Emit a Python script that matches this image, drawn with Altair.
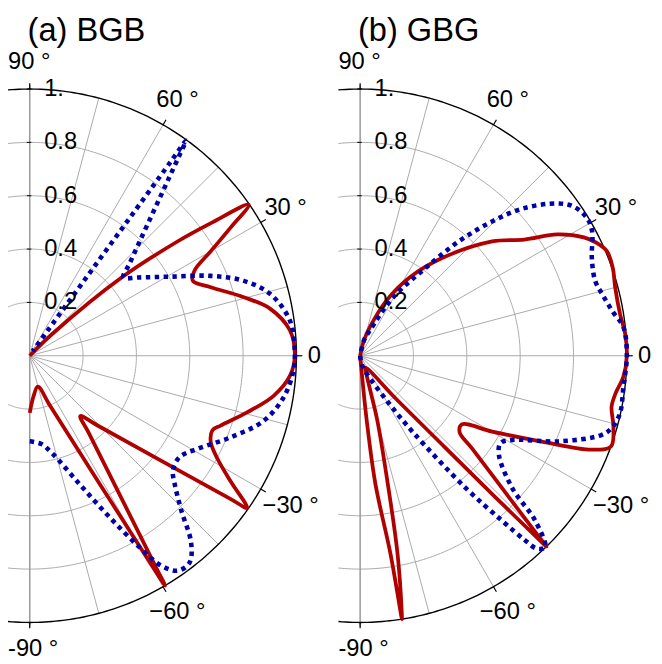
import altair as alt
import numpy as np
import pandas as pd

# ---------------- data (angle in degrees, radius 0..1) ----------------
panels = ["a", "b"]
panel_titles = ["(a) BGB", "(b) GBG"]

a_red_theta = [-90, -84.4, -75.3, -67.7, -59.8, -59.5, -59.2, -52.6, -50, -45.9, -35.5, -35, -32, -28.7,
               -25.5, -22.2, -20.1, -14.6, -9.4, -4.5, 0, 5.6, 11.1, 15.3, 20.7, 24.7, 27.3, 30.0, 32.5,
               34.6, 36.2, 37.7, 40.4, 44, 48]
a_red_r = [0.214, 0.151, 0.12, 0.206, 0.91, 1.0, 0.93, 0.365, 0.295, 0.363, 0.924, 0.995, 0.888, 0.802,
           0.752, 0.740, 0.762, 0.842, 0.926, 0.978, 0.994, 0.980, 0.918, 0.832, 0.726, 0.673, 0.695, 0.784,
           0.892, 0.997, 0.842, 0.702, 0.454, 0.12, 0.0]

a_blue_theta = [-90, -82.5, -76.8, -68.9, -63.8, -60.3, -57.9, -55.4, -52.3, -49.2, -45.5, -41.4, -38.7,
                -34.1, -29.0, -22.1, -15.6, -9.4, -3.4, 0.9, 7.8, 14.4, 19.3, 23.8, 29.2, 35.8, 39.9,
                42.7, 53.3, 54.0, 54.0, 54.5, 57.5]
a_blue_r = [0.321, 0.334, 0.378, 0.514, 0.671, 0.822, 0.930, 0.979, 0.980, 0.926, 0.810, 0.724, 0.688,
            0.678, 0.720, 0.813, 0.910, 0.964, 0.990, 0.994, 0.984, 0.931, 0.850, 0.742, 0.608, 0.502, 0.458,
            0.509, 0.942, 0.997, 0.899, 0.118, 0.02]

b_red_theta = [-90, -84.5, -84.2, -83.2, -81.3, -81.03, -81.0, -80.8, -79.3, -77.7, -75.1, -69, -65, -50.3,
               -47.2, -46.3, -45.75, -45.7, -45.4, -39.7, -37.5, -34, -29.9, -25.3, -22.1, -19.9, -15.6,
               -11.5, -8.4, -4.6, 0, 4.7, 9.1, 15.0, 19.2, 23.0, 25.5, 27.9, 31.6, 35.3, 40.9, 49.9, 57.7,
               64.5, 71.2, 76, 90]
b_red_r = [0.0, 0.1, 0.241, 0.485, 0.75, 0.975, 1.0, 0.976, 0.755, 0.474, 0.248, 0.058, 0.05, 0.206,
           0.468, 0.729, 0.97, 1.0, 0.957, 0.548, 0.47, 0.46, 0.571, 0.753, 0.936, 1.0, 0.986,
           0.962, 0.968, 0.990, 1.0, 0.997, 0.987, 0.990, 1.003, 1.005, 0.983, 0.949, 0.868, 0.754, 0.655,
           0.48, 0.347, 0.229, 0.113, 0.059, 0.0]

b_blue_theta = [-90, -80, -71.2, -58.9, -55.3, -51.4, -49.3, -48.2, -47.5, -46.0, -43.3, -41.0, -35.5,
                -31.9, -29.0, -23.4, -18.2, -16.0, -12.4, -6.7, 0, 6.2, 9.8, 14.0, 17.7, 22.9, 28.2,
                31.2, 34.9, 37.7, 42.0, 45.5, 49.2, 53.2, 60.5, 69, 76, 90]
b_blue_r = [0.0, 0.03, 0.064, 0.207, 0.352, 0.634, 0.816, 0.929, 0.981, 0.998, 0.902, 0.755, 0.639,
            0.62, 0.651, 0.809, 0.952, 0.982, 0.998, 0.994, 1.0, 0.993, 0.962, 0.938, 0.925, 0.943, 0.987,
            0.995, 0.977, 0.934, 0.827, 0.706, 0.567, 0.413, 0.251, 0.102, 0.059, 0.0]

radial_ticks = [0.2, 0.4, 0.6, 0.8, 1.0]
radial_labels = ["0.2", "0.4", "0.6", "0.8", "1."]
spoke_angles = [-75, -60, -45, -30, -15, 0, 15, 30, 45, 60, 75]
angle_ticks = [-90, -60, -30, 0, 30, 60, 90]
angle_labels = ["-90 °", "−60 °", "−30 °", "0", "30 °", "60 °", "90 °"]

# ---------------- layout constants ----------------
PX = 270.0                 # pixels per unit radius
X0 = -22 / PX              # left edge of plotting area
W, H = 654, 540
X1 = X0 + W / PX
OFF = (364.5 - 30) / PX    # horizontal offset of panel (b)
shift = {"a": 0.0, "b": OFF}
FONT = "Liberation Sans"
GRID = "#aaaaaa"

rows = []
for p, series, th, rr in [("a", "red", a_red_theta, a_red_r), ("a", "blue", a_blue_theta, a_blue_r),
                          ("b", "red", b_red_theta, b_red_r), ("b", "blue", b_blue_theta, b_blue_r)]:
    for i, (t, r) in enumerate(zip(th, rr)):
        rows.append({"panel": p, "series": series, "idx": i, "theta": t, "r": r})
curves = pd.DataFrame(rows)

# grid circles (cut at the left edge of the plotting area)
circ = []
for p in panels:
    for rad in radial_ticks:
        phimax = 90 + np.degrees(np.arcsin(min(1.0, -X0 / rad)))
        for i, ph in enumerate(np.linspace(-phimax, phimax, 241)):
            circ.append({"panel": p, "rad": rad, "idx": i,
                         "x": rad * np.cos(np.radians(ph)) + shift[p], "y": rad * np.sin(np.radians(ph))})
circ = pd.DataFrame(circ)

spokes = pd.DataFrame([{"x": shift[p], "y": 0.0,
                        "x2": np.cos(np.radians(a)) + shift[p], "y2": np.sin(np.radians(a))}
                       for p in panels for a in spoke_angles])
vaxis = pd.DataFrame([{"x": shift[p], "y": -1.015, "y2": 1.015} for p in panels])
rticks = pd.DataFrame([{"x": shift[p] - 0.011, "x2": shift[p] + 0.006, "y": r}
                       for p in panels for r in radial_ticks])
aticks = pd.DataFrame([{"x": np.cos(np.radians(a)) + shift[p], "y": np.sin(np.radians(a)),
                        "x2": 1.022 * np.cos(np.radians(a)) + shift[p], "y2": 1.022 * np.sin(np.radians(a))}
                       for p in panels for a in angle_ticks])

lab_c, lab_l = [], []
for p in panels:
    for a, t in zip(angle_ticks, angle_labels):
        if abs(a) == 90:
            lab_l.append({"x": X0 + 0.0 + shift[p], "y": 1.1 * np.sign(a), "text": t})
        else:
            rr = 1.067 if a == 0 else (1.13 if -45 < a < 0 else 1.108)
            lab_c.append({"x": rr * np.cos(np.radians(a)) + shift[p],
                          "y": rr * np.sin(np.radians(a)), "text": t})
    for r, t in zip(radial_ticks, radial_labels):
        lab_l.append({"x": 0.054 + shift[p], "y": r, "text": t})
lab_c = pd.DataFrame(lab_c)
lab_l = pd.DataFrame(lab_l)
titles = pd.DataFrame([{"x": -0.008 + shift[p], "y": 1.218, "text": t} for p, t in zip(panels, panel_titles)])

xs = alt.Scale(domain=[X0, X1], nice=False, zero=False)
ys = alt.Scale(domain=[-1, 1], nice=False, zero=False)
X = lambda f="x": alt.X(f"{f}:Q", scale=xs, axis=None)
Y = lambda f="y": alt.Y(f"{f}:Q", scale=ys, axis=None)

grid_gray = alt.Chart(circ).transform_filter("datum.rad < 1").mark_line(
    color=GRID, strokeWidth=1).encode(x=X(), y=Y(), order="idx:Q", detail=["panel:N", "rad:Q"])
grid_black = alt.Chart(circ).transform_filter("datum.rad == 1").mark_line(
    color="black", strokeWidth=1.4).encode(x=X(), y=Y(), order="idx:Q", detail="panel:N")
spoke_l = alt.Chart(spokes).mark_rule(color=GRID, strokeWidth=1).encode(
    x=X(), y=Y(), x2="x2:Q", y2="y2:Q")
vax_l = alt.Chart(vaxis).mark_rule(color="#999999", strokeWidth=1.5).encode(x=X(), y=Y(), y2="y2:Q")
rt_l = alt.Chart(rticks).mark_rule(color="black", strokeWidth=1).encode(x=X(), x2="x2:Q", y=Y())
at_l = alt.Chart(aticks).mark_rule(color="black", strokeWidth=1.2).encode(
    x=X(), y=Y(), x2="x2:Q", y2="y2:Q")

calc = dict(
    x=f"datum.r*cos(datum.theta*PI/180) + (datum.panel == 'b' ? {OFF} : 0)",
    y="datum.r*sin(datum.theta*PI/180)")
base = alt.Chart(curves).transform_calculate(**calc)
red_l = base.transform_filter("datum.series == 'red'").mark_line(
    color="#b00000", strokeWidth=3.8, strokeJoin="round", interpolate="catmull-rom").encode(
    x=X(), y=Y(), order="idx:Q", detail="panel:N")
blue_l = base.transform_filter("datum.series == 'blue'").mark_line(
    color="#0000a8", strokeWidth=4.6, strokeDash=[4.5, 4.5], interpolate="catmull-rom").encode(
    x=X(), y=Y(), order="idx:Q", detail="panel:N")

txt_c = alt.Chart(lab_c).mark_text(font=FONT, fontSize=24, align="center", baseline="middle",
                                   color="black").encode(x=X(), y=Y(), text="text:N")
txt_l = alt.Chart(lab_l).mark_text(font=FONT, fontSize=24, align="left", baseline="middle",
                                   color="black").encode(x=X(), y=Y(), text="text:N")
txt_t = alt.Chart(titles).mark_text(font=FONT, fontSize=33, align="left", baseline="middle",
                                    color="black").encode(x=X(), y=Y(), text="text:N")

chart = alt.layer(grid_gray, spoke_l, vax_l, grid_black, rt_l, at_l, red_l, blue_l, txt_c, txt_l, txt_t).properties(
    width=W, height=H,
    padding={"left": 0, "top": 78, "right": 0, "bottom": 36},
    autosize=alt.AutoSizeParams(type="none"),
).configure_view(stroke=None)

chart.save("out.html", embed_options={"renderer": "svg", "actions": False})
